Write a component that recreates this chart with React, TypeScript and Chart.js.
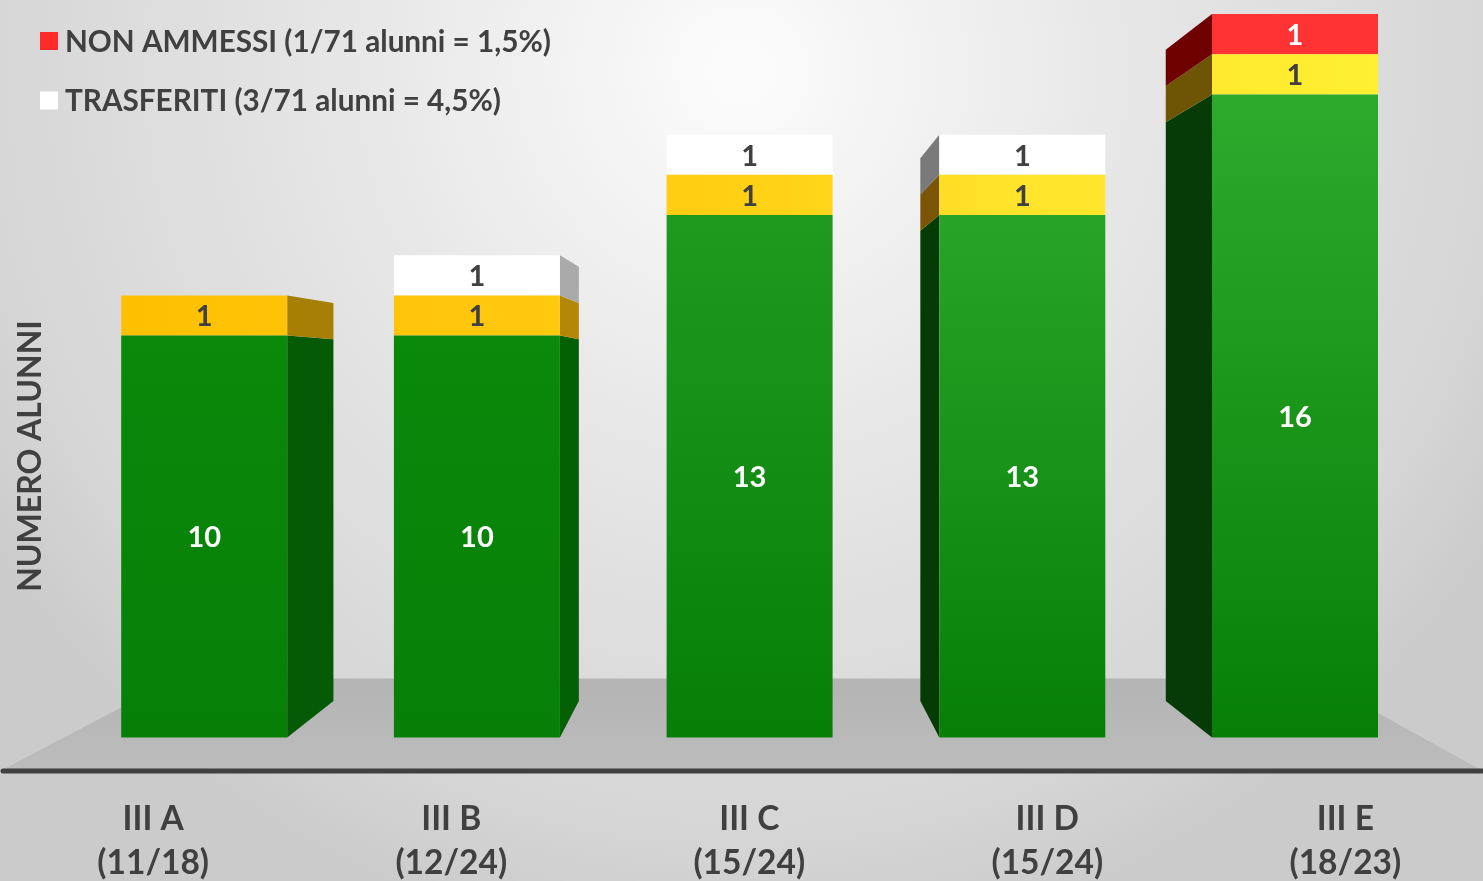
import React, { useEffect, useRef } from "react";
import { Chart, registerables } from "chart.js";

Chart.register(...registerables);

const classNames = ["III A", "III B", "III C", "III D", "III E"];
const classTotals = ["(11/18)", "(12/24)", "(15/24)", "(15/24)", "(18/23)"];
const greenSeries = [10, 10, 13, 13, 16];
const yellowSeries = [1, 1, 1, 1, 1];
const whiteSeries = [null, 1, 1, 1, null];
const redSeries = [null, null, null, null, 1];
const legendEntries = [
  { text: "NON AMMESSI (1/71 alunni = 1,5%)", color: "#ff2a2a" },
  { text: "TRASFERITI (3/71 alunni = 4,5%)", color: "#ffffff" },
];
const yTitle = "NUMERO ALUNNI";

const FONT = "Lato, Carlito, sans-serif";
const TEXT = "#404040";
const greenTops = ["#0a890a", "#0a890a", "#1f9a1f", "#28a428", "#2dab2d"];
const greenSides = ["#055a05", "#055f05", "#055005", "#053c05", "#063a06"];
const yellowSides = ["#a87f05", "#b38808", "#a87f05", "#7a5505", "#6e5405"];
const whiteSides = ["#aaaaaa", "#aaaaaa", "#aaaaaa", "#7a7a7a", "#7a7a7a"];
const redSides = ["#6e0000", "#6e0000", "#6e0000", "#6e0000", "#6e0000"];
const sideTables = [greenSides, yellowSides, whiteSides, redSides];

const DEPTH = 0.1;
const VANISH_VALUE = 9.1;

const scenePlugin = {
  id: "scene",
  beforeDraw(chart: any) {
    const { ctx, width, height } = chart;
    ctx.save();
    const g = ctx.createRadialGradient(width * 0.5, height * 0.08, 0, width * 0.5, height * 0.08, width * 0.6);
    g.addColorStop(0, "#fcfcfc");
    g.addColorStop(0.45, "#e6e6e6");
    g.addColorStop(0.85, "#d6d6d6");
    g.addColorStop(1, "#cbcbcb");
    ctx.fillStyle = g;
    ctx.fillRect(0, 0, width, height);
    ctx.restore();

    // floor and base line
    const yS = chart.scales.y;
    const bottom = chart.chartArea.bottom;
    const floorTop = yS.getPixelForValue(1.47);
    ctx.save();
    const fg = ctx.createLinearGradient(0, floorTop, 0, bottom);
    fg.addColorStop(0, "#b4b4b4");
    fg.addColorStop(1, "#bcbcbc");
    ctx.fillStyle = fg;
    ctx.beginPath();
    ctx.moveTo(0, bottom);
    ctx.lineTo(width * 0.119, floorTop);
    ctx.lineTo(width * 0.887, floorTop);
    ctx.lineTo(width, bottom);
    ctx.closePath();
    ctx.fill();
    ctx.strokeStyle = TEXT;
    ctx.lineWidth = 5;
    ctx.lineCap = "round";
    ctx.beginPath();
    ctx.moveTo(3, bottom);
    ctx.lineTo(width + 4, bottom);
    ctx.stroke();
    ctx.restore();
  },
  beforeDatasetsDraw(chart: any) {
    const { ctx } = chart;
    const xS = chart.scales.x;
    const yS = chart.scales.y;
    const vx = xS.getPixelForValue(2);
    const vy = yS.getPixelForValue(VANISH_VALUE);
    const backX = (p: number) => p + DEPTH * (vx - p);
    const backY = (p: number) => p + DEPTH * (vy - p);
    chart.data.datasets.forEach((ds: any, di: number) => {
      chart.getDatasetMeta(di).data.forEach((bar: any, i: number) => {
        if (ds.data[i] == null) return;
        const left = bar.x - bar.width / 2;
        const right = bar.x + bar.width / 2;
        let edge: number | null = null;
        if (right < vx) edge = right;
        else if (left > vx) edge = left;
        if (edge === null) return;
        ctx.fillStyle = sideTables[di][i];
        ctx.beginPath();
        ctx.moveTo(edge, bar.y);
        ctx.lineTo(edge, bar.base);
        ctx.lineTo(backX(edge), backY(bar.base));
        ctx.lineTo(backX(edge), backY(bar.y));
        ctx.closePath();
        ctx.fill();
      });
    });
  },
  afterDatasetsDraw(chart: any) {
    const { ctx } = chart;
    ctx.save();
    ctx.textAlign = "center";
    ctx.textBaseline = "middle";
    ctx.font = `700 29px ${FONT}`;
    chart.data.datasets.forEach((ds: any, di: number) => {
      chart.getDatasetMeta(di).data.forEach((bar: any, i: number) => {
        const v = ds.data[i];
        if (v == null) return;
        ctx.fillStyle = di === 0 || di === 3 ? "#ffffff" : TEXT;
        ctx.fillText(String(v), bar.x, (bar.y + bar.base) / 2 + 1.5);
      });
    });
    ctx.restore();
  },
  afterDraw(chart: any) {
    const { ctx } = chart;
    ctx.save();
    ctx.font = `700 29.7px ${FONT}`;
    ctx.textBaseline = "middle";
    ctx.fillStyle = TEXT;
    legendEntries.forEach((entry, i) => {
      const cy = 41 + i * 59.5;
      ctx.fillStyle = entry.color;
      ctx.fillRect(40, cy - 9, 18, 18);
      ctx.fillStyle = TEXT;
      ctx.fillText(entry.text, 65, cy + 1);
    });
    ctx.translate(31, 456);
    ctx.rotate(-Math.PI / 2);
    ctx.textAlign = "center";
    ctx.font = `700 32px ${FONT}`;
    ctx.fillText(yTitle, 0, 0);
    ctx.restore();
  },
};

function yellowFill(context: any) {
  const chart = context.chart;
  const area = chart.chartArea;
  if (!area || !isFinite(area.left) || !isFinite(area.right)) return "#ffd014";
  const g = chart.ctx.createLinearGradient(area.left, 0, area.right, 0);
  g.addColorStop(0, "#ffbf00");
  g.addColorStop(0.3, "#ffc60c");
  g.addColorStop(0.5, "#ffd014");
  g.addColorStop(0.7, "#ffe42b");
  g.addColorStop(1, "#fff033");
  return g;
}

function greenFill(context: any) {
  const chart = context.chart;
  const yS = chart.scales.y;
  const i = context.dataIndex;
  if (!yS || i === undefined) return "#0a890a";
  const top = yS.getPixelForValue(greenSeries[i]);
  const base = yS.getPixelForValue(0);
  if (!isFinite(top) || !isFinite(base)) return greenTops[i];
  const g = chart.ctx.createLinearGradient(0, top, 0, base);
  g.addColorStop(0, greenTops[i]);
  g.addColorStop(1, "#077f07");
  return g;
}

export default function App() {
  const ref = useRef<HTMLCanvasElement | null>(null);
  useEffect(() => {
    document.body.style.margin = "0";
    const barOpts = { xAxisID: "x", yAxisID: "y", stack: "s", barPercentage: 0.6087, categoryPercentage: 1, borderWidth: 0 };
    const chart = new Chart(ref.current as HTMLCanvasElement, {
      type: "bar",
      data: {
        labels: classNames,
        datasets: [
          { label: "Ammessi", data: greenSeries, backgroundColor: greenFill, ...barOpts },
          { label: "Ammessi con insufficienze", data: yellowSeries, backgroundColor: yellowFill, ...barOpts },
          { label: "Trasferiti", data: whiteSeries, backgroundColor: "#ffffff", ...barOpts },
          { label: "Non ammessi", data: redSeries, backgroundColor: "#ff3333", ...barOpts },
        ] as any,
      },
      options: {
        animation: false,
        responsive: false,
        layout: { padding: { left: 67.85, right: 51.65, top: 0, bottom: 0 } },
        plugins: { legend: { display: false }, tooltip: { enabled: false } },
        scales: {
          x: { type: "category", display: false, stacked: true, grid: { display: false } },
          y: { type: "linear", display: false, stacked: true, min: -0.834, max: 18.35, grid: { display: false } },
          x2: {
            type: "linear",
            position: "bottom",
            offset: false,
            min: -0.2864,
            max: 4.2886,
            grid: { display: false, drawTicks: false, offset: false },
            border: { display: false },
            afterBuildTicks(scale: any) {
              scale.ticks = classNames.map((_, i) => ({ value: i }));
            },
            afterFit(scale: any) {
              scale.height = 110;
            },
            ticks: {
              autoSkip: false,
              maxRotation: 0,
              minRotation: 0,
              padding: 26,
              color: TEXT,
              font: { family: FONT, weight: "bold", size: 33.5, lineHeight: 1.313 },
              callback: (v: any) => [classNames[v], classTotals[v]],
            },
          },
        },
      } as any,
      plugins: [scenePlugin],
    });
    return () => chart.destroy();
  }, []);
  return <canvas ref={ref} width={1483} height={881} style={{ display: "block" }} />;
}
